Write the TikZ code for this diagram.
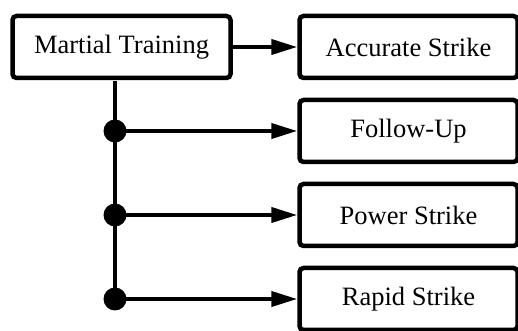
\documentclass[tikz,border=0pt]{standalone}
\usepackage{fontspec}
\setmainfont{Liberation Serif}
\usetikzlibrary{arrows.meta}

\begin{document}
\begin{tikzpicture}[x=1pt,y=1pt]
      \tikzset{skill box/.style={draw=black,
          line width=4.5pt,
          rounded corners=4pt,
          fill=white,
          minimum width=218pt,
          minimum height=62pt,
          font=\fontsize{26.5}{30}\selectfont},
        branch dot/.style={inner sep=0pt,
          outer sep=0pt,
          minimum size=23pt,
          fill=#1,
          circle},
        link/.style={line width=4pt,
          -{Triangle[length=26pt,width=15pt]}}
      }
      \useasboundingbox (0,0) rectangle (518,331);
      \node [skill box] (MT) at (121.5,284) {Martial Training};
      \node [skill box] (AS) at (408.5,284) {Accurate Strike};
      \node [skill box] (FU) at (408.5,200) {Follow-Up};
      \node [skill box] (PS) at (408.5,116) {Power Strike};
      \node [skill box] (RS) at (408.5,32) {Rapid Strike};
      \coordinate (T) at (115,250);
      \node [branch dot=black] (D1) at (115,200) {};
      \node [branch dot=black] (D2) at (115,116) {};
      \node [branch dot=black] (D3) at (115,32) {};
      \draw [line width=4pt] (T)--(D3.center);

      \draw [link] (MT)--(AS);
      \draw [link] (D1.center)--(FU);
      \draw [link] (D2.center)--(PS);
      \draw [link] (D3.center)--(RS);
    \end{tikzpicture}
\end{document}
